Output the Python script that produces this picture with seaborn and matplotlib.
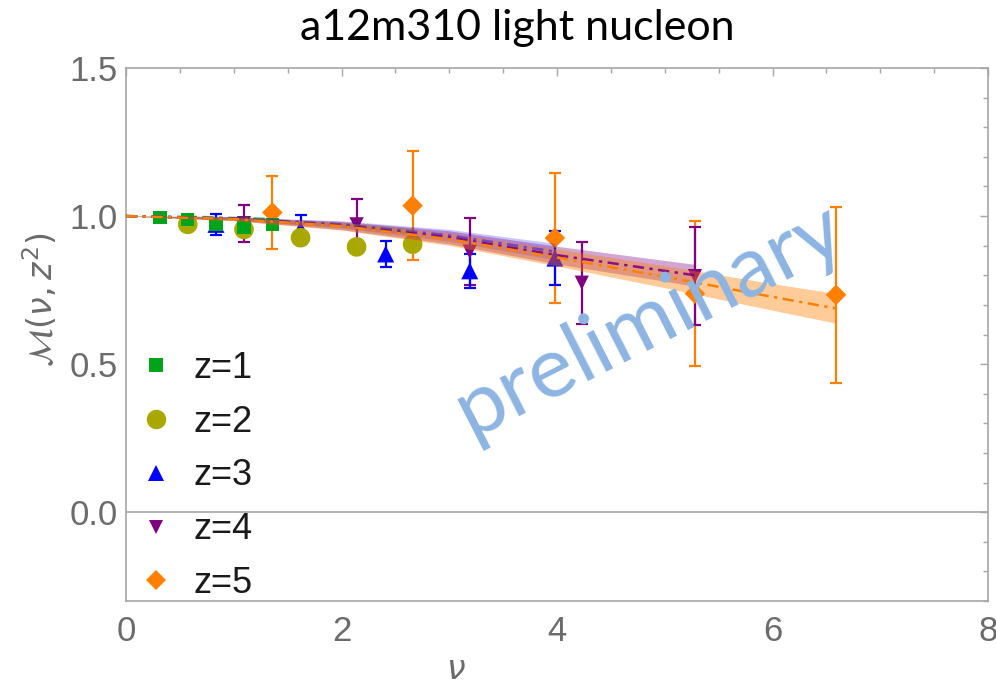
import numpy as np
import pandas as pd
import matplotlib
matplotlib.use("Agg")
import matplotlib.pyplot as plt
from matplotlib.ticker import MultipleLocator, FormatStrFormatter
from matplotlib.lines import Line2D
import seaborn as sns

# ---------------- data ----------------
z_labels = ["z=1", "z=2", "z=3", "z=4", "z=5"]
colors = ["#00a41a", "#a8a800", "#0000ff", "#800080", "#ff8000"]
markers = ["s", "o", "^", "v", "D"]

nu_z1 = [0.315, 0.573, 0.835, 1.095, 1.358]
m_z1 = [0.994, 0.989, 0.972, 0.963, 0.972]
e_z1 = [0.004, 0.005, 0.007, 0.009, 0.011]

nu_z2 = [0.573, 1.095, 1.620, 2.140, 2.660]
m_z2 = [0.972, 0.955, 0.927, 0.896, 0.905]
e_z2 = [0.005, 0.008, 0.012, 0.015, 0.020]

nu_z3 = [0.835, 1.620, 2.410, 3.190, 3.980]
m_z3 = [0.972, 0.955, 0.872, 0.815, 0.858]
e_z3 = [0.036, 0.050, 0.045, 0.057, 0.091]

nu_z4 = [1.095, 2.140, 3.190, 4.230, 5.280]
m_z4 = [0.976, 0.972, 0.880, 0.775, 0.797]
e_z4 = [0.063, 0.086, 0.112, 0.138, 0.165]

nu_z5 = [1.358, 2.660, 3.980, 5.280, 6.590]
m_z5 = [1.012, 1.035, 0.926, 0.738, 0.734]
e_z5 = [0.123, 0.185, 0.218, 0.245, 0.297]

# fit bands: nodes, centre, half-width
bnu_z1 = [0.0, 0.7, 1.358]
bmid_z1 = [1.000, 0.997, 0.990]
bhw_z1 = [0.000, 0.003, 0.005]

bnu_z2 = [0.0, 1.0, 2.0, 2.660]
bmid_z2 = [1.000, 0.991, 0.970, 0.948]
bhw_z2 = [0.000, 0.004, 0.008, 0.011]

bnu_z3 = [0.0, 1.0, 2.0, 3.0, 3.980]
bmid_z3 = [1.000, 0.992, 0.972, 0.935, 0.880]
bhw_z3 = [0.000, 0.005, 0.012, 0.020, 0.028]

bnu_z4 = [0.0, 1.0, 2.0, 3.0, 4.0, 5.0, 5.280]
bmid_z4 = [1.000, 0.991, 0.968, 0.928, 0.868, 0.815, 0.800]
bhw_z4 = [0.000, 0.006, 0.014, 0.022, 0.030, 0.035, 0.037]

bnu_z5 = [0.0, 1.0, 2.0, 3.0, 4.0, 5.0, 6.0, 6.590]
bmid_z5 = [1.000, 0.990, 0.966, 0.922, 0.860, 0.795, 0.727, 0.688]
bhw_z5 = [0.000, 0.006, 0.013, 0.021, 0.029, 0.037, 0.045, 0.050]

x_ticks = [0, 2, 4, 6, 8]
y_ticks = [0.0, 0.5, 1.0, 1.5]

points = [(nu_z1, m_z1, e_z1), (nu_z2, m_z2, e_z2), (nu_z3, m_z3, e_z3),
          (nu_z4, m_z4, e_z4), (nu_z5, m_z5, e_z5)]
bands = [(bnu_z1, bmid_z1, bhw_z1), (bnu_z2, bmid_z2, bhw_z2),
         (bnu_z3, bmid_z3, bhw_z3), (bnu_z4, bmid_z4, bhw_z4),
         (bnu_z5, bmid_z5, bhw_z5)]
msizes = [90, 200, 150, 105, 110]
band_alpha = [0.35, 0.35, 0.22, 0.35, 0.40]
line_alpha = [0.6, 0.6, 0.45, 0.9, 1.0]

# ---------------- style ----------------
sns.set_style("white")
plt.rcParams["font.family"] = ["Liberation Sans", "DejaVu Sans"]
plt.rcParams["mathtext.fontset"] = "dejavusans"

gray = "#6b6b6b"
spine_c = "#a6a6a6"

fig = plt.figure(figsize=(9.96, 6.93), dpi=100)
ax = fig.add_axes([126 / 996, 1 - 601 / 693, 862 / 996, 533 / 693])

# points (z=5 drawn first, z=1 on top)
for i in reversed(range(5)):
    x, y, e = points[i]
    df = pd.DataFrame({"nu": x, "M": y})
    ax.errorbar(x, y, yerr=e, fmt="none", ecolor=colors[i], elinewidth=1.6,
                capsize=4.5, capthick=1.6, zorder=2)
    sns.scatterplot(data=df, x="nu", y="M", ax=ax, color=colors[i],
                    marker=markers[i], s=msizes[i], linewidth=0,
                    edgecolor="none", zorder=2.5, legend=False)

# bands on top (translucent), orange last
for i in range(5):
    bx, bm, bh = bands[i]
    bm = np.asarray(bm)
    bh = np.asarray(bh)
    ax.fill_between(bx, bm - bh, bm + bh, color=colors[i], alpha=band_alpha[i],
                    linewidth=0, zorder=3)
    sns.lineplot(x=bx, y=bm, ax=ax, color=colors[i], linewidth=1.8,
                 alpha=line_alpha[i], estimator=None, sort=False,
                 zorder=3.5, legend=False,
                 linestyle=(0, (4.5, 2.2, 1.3, 2.2)))

ax.axhline(0.0, color=spine_c, linewidth=1.2, zorder=1)

ax.set_xlim(0, 8)
ax.set_ylim(-0.3, 1.5)
ax.set_xticks(x_ticks)
ax.set_yticks(y_ticks)
ax.xaxis.set_minor_locator(MultipleLocator(0.5))
ax.yaxis.set_minor_locator(MultipleLocator(0.1))
ax.yaxis.set_major_formatter(FormatStrFormatter("%.1f"))

for s in ax.spines.values():
    s.set_color(spine_c)
    s.set_linewidth(1.2)

ax.tick_params(axis="both", which="both", direction="in", top=True, right=True,
               color=spine_c, labelcolor=gray, labelsize=25)
ax.tick_params(axis="both", which="major", length=6, width=1)
ax.tick_params(axis="both", which="minor", length=3.5, width=1)
ax.tick_params(axis="x", which="major", pad=10)
ax.tick_params(axis="y", which="major", pad=6)

ax.set_xlabel(r"$\nu$", fontsize=24, color=gray)
ax.xaxis.set_label_coords((456 - 126) / 862, (601 - 655) / 533)
ax.set_ylabel(r"$\mathcal{M}(\nu,z^2)$", fontsize=24, color=gray)
ax.yaxis.set_label_coords((60 - 126) / 862, (601 - 300) / 533)

# legend
leg_ms = [9.5, 14.0, 11.0, 10.0, 10.5]
handles = [Line2D([0], [0], marker=markers[i], color=colors[i], linestyle="none",
                  markersize=leg_ms[i], markeredgewidth=0)
           for i in range(5)]
leg = ax.legend(handles, z_labels, loc="lower left",
                bbox_to_anchor=((138 - 126) / 862, 0.0),
                frameon=False, fontsize=26, handlelength=1.0,
                handletextpad=0.55, labelspacing=0.52, borderpad=0,
                borderaxespad=0.0)
for t in leg.get_texts():
    t.set_color("#1a1a1a")

# title
fig.text(517 / 996, 1 - 28 / 693, "a12m310 light nucleon", ha="center",
         va="center", fontsize=31, family=["Lato", "DejaVu Sans"], color="black")

# watermark
fig.text(650 / 996, 1 - 320 / 693, "preliminary", ha="center", va="center",
         rotation=27, fontsize=62, family=["Lato", "DejaVu Sans"],
         color="#8db4e2", zorder=10)

fig.savefig("out.png", dpi=100)
